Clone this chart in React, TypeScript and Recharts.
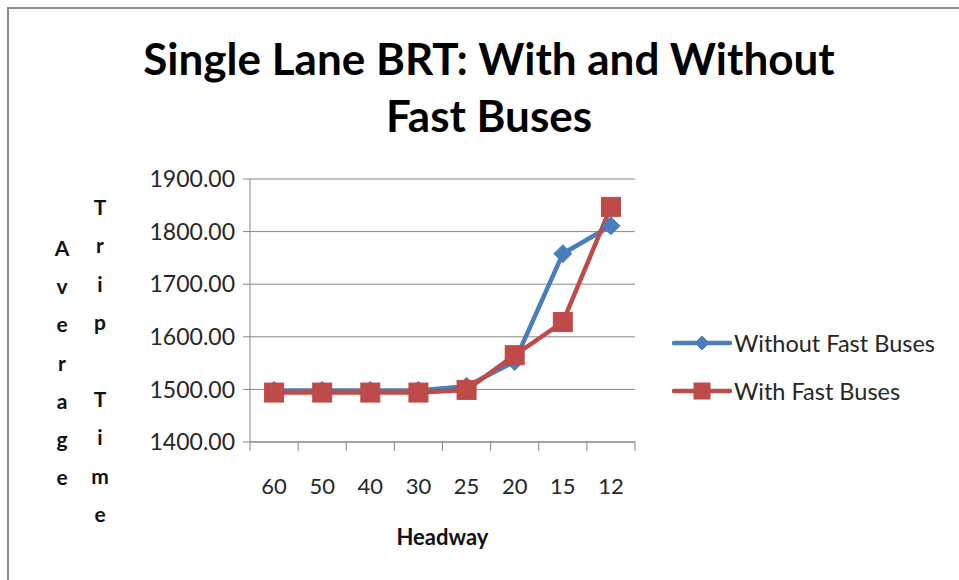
import { LineChart, Line, XAxis, YAxis, CartesianGrid, Legend } from "recharts";

// values
const headways = ["60", "50", "40", "30", "25", "20", "15", "12"];
const withoutFastBuses = [1498, 1498, 1498, 1498, 1506, 1553, 1758, 1811];
const withFastBuses = [1494, 1494, 1494, 1494, 1499, 1565, 1628, 1847];
const yTicks = [1400, 1500, 1600, 1700, 1800, 1900];

const seriesNames = ["Without Fast Buses", "With Fast Buses"];
const labelAverage = "Average";
const labelTripTime = "Trip Time";
const labelHeadway = "Headway";

const data = headways.map((h, i) => ({
    headway: h,
    without: withoutFastBuses[i],
    with: withFastBuses[i],
}));

const BLUE = "#4a7ebb";
const RED = "#be4b48";
const GRAY = "#868686";
const FONT = "Lato, 'Open Sans', sans-serif";
const BAND = 385 / 8;

function Diamond({ cx, cy, color, r = 8 }: { cx: number; cy: number; color: string; r?: number }) {
    return (
        <path
            d={`M${cx},${cy - r} L${cx + r},${cy} L${cx},${cy + r} L${cx - r},${cy} Z`}
            fill={color}
            stroke={color}
            strokeWidth={1}
        />
    );
}

function Square({ cx, cy, color, s = 18 }: { cx: number; cy: number; color: string; s?: number }) {
    return <rect x={cx - s / 2} y={cy - s / 2} width={s} height={s} fill={color} stroke={color} strokeWidth={1} />;
}

// Excel puts the category ticks between categories
function XTick(props: any) {
    const { x, y, payload, index } = props;
    const half = BAND / 2;
    return (
        <g>
            <line x1={x - half} x2={x - half} y1={y} y2={y + 9} stroke={GRAY} strokeWidth={1} />
            {index === headways.length - 1 && (
                <line x1={x + half} x2={x + half} y1={y} y2={y + 9} stroke={GRAY} strokeWidth={1} />
            )}
            <text x={x} y={y + 52} textAnchor="middle" fill="#262626" fontSize={22} fontFamily={FONT}>
                {payload.value}
            </text>
        </g>
    );
}

function XLabel(props: any) {
    const vb = props.viewBox || { x: 250, width: 385 };
    return (
        <text
            x={vb.x + vb.width / 2}
            y={545}
            textAnchor="middle"
            fontFamily={FONT}
            fontWeight={700}
            fontSize={22}
            fill="#111"
        >
            {labelHeadway}
        </text>
    );
}

function YLabel() {
    const avg = labelAverage.split("");
    const trip = labelTripTime.split("");
    return (
        <g fontFamily={FONT} fontWeight={700} fontSize={21} fill="#111" textAnchor="middle">
            {avg.map((c, i) => (
                <text key={"a" + i} x={62} y={256 + i * 38.2}>
                    {c}
                </text>
            ))}
            {trip.map((c, i) => (
                <text key={"t" + i} x={100} y={215 + i * 38.4}>
                    {c}
                </text>
            ))}
        </g>
    );
}

function LegendContent(props: any) {
    const items = props.payload || [];
    return (
        <div style={{ fontFamily: FONT, fontSize: 23.5, color: "#262626" }}>
            {items.map((it: any, i: number) => (
                <div key={i} style={{ display: "flex", alignItems: "center", height: 48 }}>
                    <svg width={62} height={24} style={{ display: "block" }}>
                        <line x1={2} x2={58} y1={12} y2={12} stroke={it.color} strokeWidth={4.5} strokeLinecap="round" />
                        {it.value === seriesNames[0] ? (
                            <Diamond cx={30} cy={12} color={it.color} r={7} />
                        ) : (
                            <Square cx={30} cy={12} color={it.color} s={16} />
                        )}
                    </svg>
                    <span style={{ whiteSpace: "nowrap" }}>{it.value}</span>
                </div>
            ))}
        </div>
    );
}

export default function App() {
    return (
        <div style={{ position: "fixed", left: 0, top: 0, width: 959, height: 580, overflow: "hidden", background: "#fff" }}>
            <div
                style={{
                    position: "absolute",
                    left: 7,
                    top: 7,
                    width: 1000,
                    height: 1000,
                    border: "2px solid #8c8c8c",
                }}
            />
            <div
                style={{
                    position: "absolute",
                    left: 0,
                    width: 978,
                    top: 30,
                    textAlign: "center",
                    fontFamily: FONT,
                    fontWeight: 700,
                    fontSize: 44,
                    lineHeight: "57px",
                    color: "#000",
                }}
            >
                Single Lane BRT: With and Without
                <br />
                Fast Buses
            </div>
            <div style={{ position: "absolute", left: 0, top: 0 }}>
                <LineChart width={959} height={580} data={data} margin={{ top: 179, right: 324, left: 150, bottom: 78 }}>
                    <CartesianGrid vertical={false} stroke={GRAY} strokeWidth={1} />
                    <XAxis
                        dataKey="headway"
                        axisLine={{ stroke: GRAY, strokeWidth: 1 }}
                        tickLine={false}
                        tickSize={0}
                        tickMargin={0}
                        height={60}
                        interval={0}
                        padding={{ left: BAND / 2, right: BAND / 2 }}
                        tick={<XTick />}
                        label={{ content: (p: any) => <XLabel {...p} /> }}
                    />
                    <YAxis
                        domain={[1400, 1900]}
                        ticks={yTicks}
                        width={100}
                        axisLine={{ stroke: GRAY, strokeWidth: 1 }}
                        tickLine={{ stroke: GRAY, strokeWidth: 1 }}
                        tickSize={7}
                        tickMargin={8}
                        tickFormatter={(v: number) => v.toFixed(2)}
                        tick={{ fontSize: 23, fill: "#262626", fontFamily: FONT }}
                        label={{ content: () => <YLabel /> }}
                    />
                    <Legend
                        layout="vertical"
                        align="center"
                        verticalAlign="middle"
                        wrapperStyle={{ left: 672, top: 319, width: 290 }}
                        itemSorter={(item: any) => seriesNames.indexOf(item.value)}
                        content={<LegendContent />}
                    />
                    <Line
                        type="linear"
                        dataKey="without"
                        name={seriesNames[0]}
                        stroke={BLUE}
                        strokeWidth={4.5}
                        isAnimationActive={false}
                        dot={(p: any) => <Diamond key={"d" + p.index} cx={p.cx} cy={p.cy} color={BLUE} r={9} />}
                    />
                    <Line
                        type="linear"
                        dataKey="with"
                        name={seriesNames[1]}
                        stroke={RED}
                        strokeWidth={4.5}
                        isAnimationActive={false}
                        dot={(p: any) => <Square key={"s" + p.index} cx={p.cx} cy={p.cy} color={RED} s={19} />}
                    />
                </LineChart>
            </div>
        </div>
    );
}
